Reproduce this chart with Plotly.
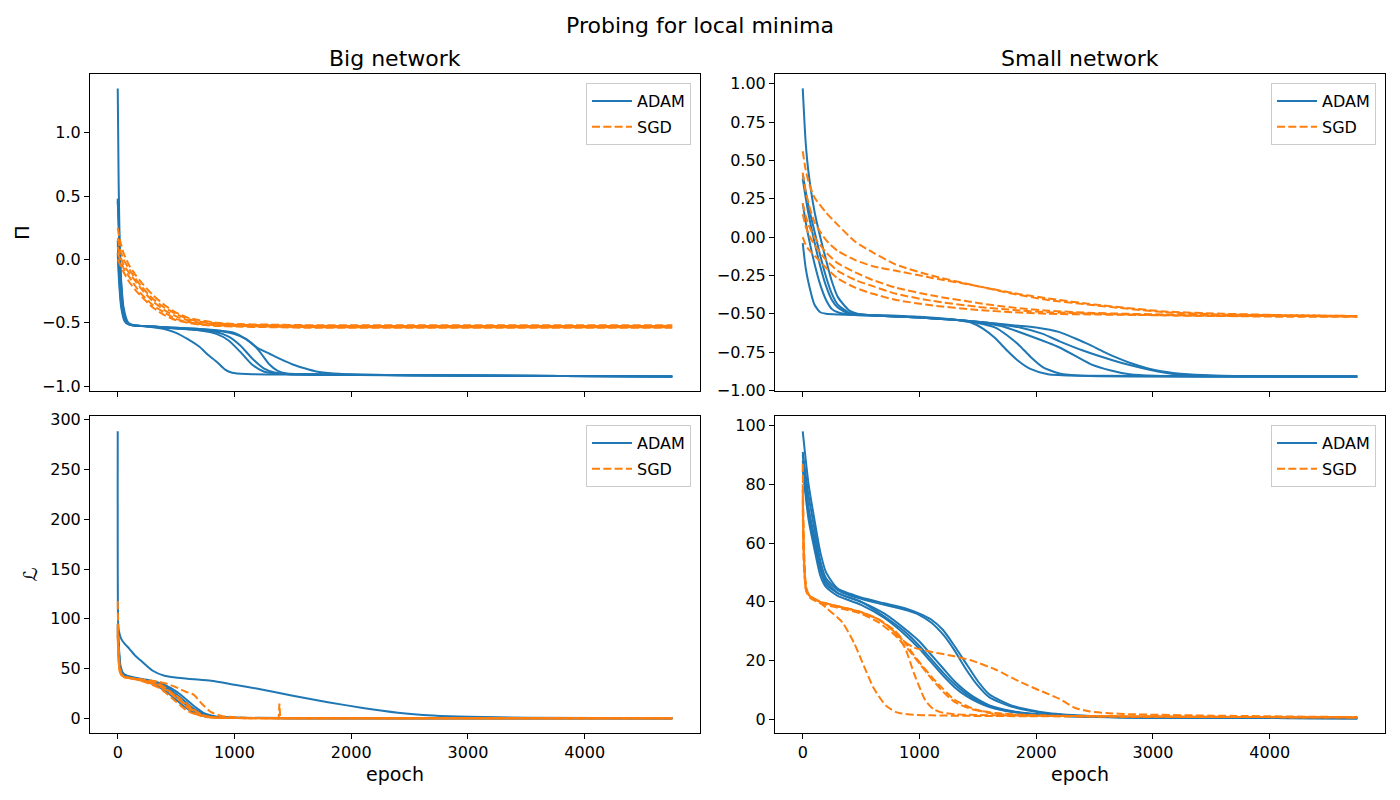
import plotly.graph_objects as go

# ---------------- data ----------------
EPOCH_TICKS = [0, 1000, 2000, 3000, 4000]
SUBPLOT_TITLES = ["Big network", "Small network"]
SERIES_NAMES = ["ADAM", "SGD"]

# Big network, Pi, ADAM runs
big_pi_adam_x = [
    [0, 8, 20, 40, 70, 120, 250, 400, 500, 600, 700, 770, 850, 920, 980, 1100, 1500, 2500, 4750],
    [0, 10, 25, 50, 80, 130, 300, 500, 700, 850, 950, 1050, 1150, 1250, 1350, 1500, 2500, 4750],
    [0, 10, 25, 50, 90, 140, 300, 500, 700, 850, 950, 1050, 1150, 1250, 1350, 1450, 1600, 2500, 4750],
    [0, 10, 30, 60, 100, 300, 500, 700, 900, 1000, 1100, 1200, 1300, 1370, 1450, 1600, 2500, 4750],
    [0, 10, 30, 60, 100, 300, 500, 700, 900, 1000, 1100, 1200, 1300, 1400, 1500, 1600, 1700, 1850, 2100, 2500, 4750],
]
big_pi_adam_y = [
    [1.35, 0.6, 0.0, -0.35, -0.50, -0.52, -0.53, -0.55, -0.58, -0.63, -0.69, -0.75, -0.81, -0.87, -0.895, -0.905, -0.91, -0.915, -0.925],
    [0.48, 0.2, -0.15, -0.40, -0.50, -0.52, -0.53, -0.545, -0.56, -0.59, -0.64, -0.73, -0.83, -0.885, -0.90, -0.905, -0.915, -0.925],
    [0.46, 0.25, -0.1, -0.38, -0.5, -0.52, -0.53, -0.545, -0.56, -0.575, -0.61, -0.68, -0.78, -0.86, -0.895, -0.905, -0.91, -0.915, -0.925],
    [0.15, -0.1, -0.35, -0.48, -0.515, -0.53, -0.54, -0.55, -0.57, -0.59, -0.63, -0.71, -0.83, -0.88, -0.90, -0.905, -0.915, -0.925],
    [0.05, -0.15, -0.38, -0.49, -0.515, -0.53, -0.54, -0.55, -0.565, -0.58, -0.63, -0.70, -0.745, -0.79, -0.83, -0.86, -0.885, -0.90, -0.91, -0.915, -0.925],
]

# Big network, Pi, SGD runs
big_pi_sgd_x = [[0, 20, 50, 100, 150, 200, 300, 400, 500, 600, 700, 850, 1000, 1300, 1700, 2500, 4750]] * 5
big_pi_sgd_y = [
    [0.25, 0.15, 0.05, -0.05, -0.12, -0.18, -0.28, -0.36, -0.42, -0.46, -0.48, -0.50, -0.51, -0.515, -0.52, -0.52, -0.52],
    [0.17, 0.08, 0.0, -0.08, -0.15, -0.21, -0.31, -0.38, -0.43, -0.47, -0.49, -0.505, -0.515, -0.52, -0.525, -0.525, -0.525],
    [0.10, 0.03, -0.04, -0.11, -0.17, -0.23, -0.33, -0.40, -0.45, -0.48, -0.50, -0.515, -0.52, -0.525, -0.53, -0.53, -0.53],
    [0.05, 0.0, -0.07, -0.14, -0.21, -0.27, -0.36, -0.42, -0.47, -0.495, -0.51, -0.52, -0.525, -0.53, -0.535, -0.535, -0.535],
    [0.0, -0.04, -0.1, -0.18, -0.24, -0.29, -0.38, -0.44, -0.48, -0.50, -0.515, -0.525, -0.53, -0.535, -0.54, -0.54, -0.54],
]

# Small network, Pi, ADAM runs
small_pi_adam_x = [
    [0, 25, 50, 100, 150, 200, 250, 300, 400, 500, 700, 1000, 1300, 1450, 1550, 1650, 1750, 1850, 1950, 2100, 2400, 4750],
    [0, 25, 50, 100, 150, 200, 250, 300, 400, 500, 700, 1000, 1300, 1500, 1650, 1750, 1860, 1950, 2060, 2200, 2400, 4750],
    [0, 25, 50, 100, 150, 200, 250, 300, 400, 500, 700, 1000, 1300, 1500, 1700, 1930, 2200, 2470, 2640, 2800, 3000, 4750],
    [0, 25, 50, 100, 150, 200, 250, 300, 400, 700, 1000, 1300, 1600, 1860, 2050, 2200, 2400, 2640, 2800, 2970, 3200, 3500, 4750],
    [0, 25, 50, 100, 150, 200, 300, 700, 1000, 1300, 1600, 1800, 2000, 2200, 2330, 2450, 2570, 2700, 2800, 2950, 3070, 3300, 3600, 4750],
]
small_pi_adam_y = [
    [0.97, 0.62, 0.42, 0.17, 0.0, -0.15, -0.29, -0.39, -0.48, -0.505, -0.51, -0.52, -0.54, -0.56, -0.60, -0.66, -0.74, -0.81, -0.86, -0.895, -0.905, -0.91],
    [0.41, 0.30, 0.20, 0.04, -0.12, -0.26, -0.37, -0.44, -0.495, -0.505, -0.515, -0.525, -0.54, -0.56, -0.59, -0.64, -0.71, -0.78, -0.85, -0.89, -0.905, -0.91],
    [0.38, 0.26, 0.15, -0.03, -0.19, -0.32, -0.41, -0.46, -0.50, -0.505, -0.515, -0.525, -0.54, -0.555, -0.58, -0.64, -0.72, -0.83, -0.87, -0.895, -0.905, -0.91],
    [0.22, 0.10, 0.0, -0.17, -0.31, -0.41, -0.47, -0.49, -0.505, -0.515, -0.525, -0.54, -0.56, -0.59, -0.63, -0.68, -0.74, -0.80, -0.835, -0.865, -0.895, -0.905, -0.91],
    [-0.04, -0.2, -0.3, -0.44, -0.49, -0.50, -0.505, -0.515, -0.525, -0.54, -0.56, -0.575, -0.59, -0.62, -0.66, -0.70, -0.745, -0.79, -0.82, -0.855, -0.875, -0.895, -0.905, -0.91],
]

# Small network, Pi, SGD runs
small_pi_sgd_x = [[0, 25, 50, 100, 200, 300, 450, 600, 800, 1100, 1500, 1800, 2100, 2500, 3100, 3600, 4200, 4750]] * 5
small_pi_sgd_y = [
    [0.56, 0.44, 0.36, 0.26, 0.16, 0.08, -0.03, -0.10, -0.18, -0.25, -0.32, -0.37, -0.41, -0.445, -0.49, -0.505, -0.51, -0.515],
    [0.42, 0.30, 0.22, 0.10, -0.02, -0.09, -0.15, -0.19, -0.22, -0.265, -0.32, -0.365, -0.40, -0.44, -0.485, -0.50, -0.51, -0.515],
    [0.22, 0.14, 0.08, 0.0, -0.10, -0.17, -0.23, -0.28, -0.33, -0.38, -0.43, -0.46, -0.48, -0.495, -0.505, -0.51, -0.515, -0.515],
    [0.15, 0.07, 0.02, -0.05, -0.15, -0.22, -0.28, -0.32, -0.37, -0.415, -0.455, -0.475, -0.49, -0.50, -0.51, -0.515, -0.515, -0.52],
    [0.0, -0.05, -0.08, -0.12, -0.20, -0.27, -0.33, -0.37, -0.41, -0.445, -0.475, -0.49, -0.50, -0.505, -0.51, -0.515, -0.52, -0.52],
]

# Big network, loss, ADAM runs
big_l_adam_x = [
    [0, 4, 10, 30, 60, 100, 150, 200, 300, 400, 600, 800, 1000, 1200, 1500, 1800, 2100, 2400, 2700, 3000, 3500, 4750],
] + [[0, 10, 25, 50, 80, 150, 250, 350, 450, 550, 650, 750, 850, 1000, 1500, 4750]] * 4
big_l_adam_y = [
    [288, 95, 88, 80, 75, 70, 63, 58, 48, 43, 40, 38, 34, 30, 23, 16.5, 10.7, 6, 3.2, 1.8, 1.0, 0.5],
    [95, 72, 52, 45, 43, 41, 39, 36, 31, 23, 13, 5, 2, 1, 0.6, 0.3],
    [92, 68, 50, 44, 42, 40, 38, 34, 27, 17, 8, 3, 1.5, 0.8, 0.5, 0.3],
    [88, 65, 49, 44, 42, 40, 38, 35, 29, 20, 10, 4, 1.7, 0.9, 0.5, 0.3],
    [84, 62, 48, 44, 42, 40, 37, 32, 24, 14, 6, 2, 1, 0.7, 0.5, 0.3],
]

# Big network, loss, SGD runs (the last run has a short spike near epoch 1385)
big_l_sgd_x = [[0, 5, 15, 30, 60, 150, 250, 350, 420, 500, 580, 650, 720, 800, 900, 1100, 2000, 4750]] * 4 + [
    [0, 5, 15, 30, 60, 150, 250, 350, 420, 500, 580, 650, 720, 800, 900, 1100, 1378, 1385, 1392, 2000, 4750],
]
big_l_sgd_y = [
    [118, 80, 55, 45, 42, 40, 38, 35, 30, 22, 13, 6, 2.5, 1.2, 0.8, 0.5, 0.4, 0.3],
    [95, 70, 52, 45, 42, 40, 38.5, 37, 35, 31.5, 27, 24, 15, 6.5, 2.5, 0.8, 0.4, 0.3],
    [90, 66, 50, 44, 41.5, 39.5, 36, 31, 25, 17, 9, 5, 3, 1.5, 0.8, 0.5, 0.4, 0.3],
    [86, 64, 49, 44, 41.5, 40, 37.5, 34, 29, 23, 16, 9, 4, 1.5, 0.8, 0.5, 0.4, 0.3],
    [82, 62, 48, 44, 41.5, 39.5, 37, 33, 28, 21, 14, 8, 3.5, 1.5, 0.8, 0.5, 0.4, 15, 0.4, 0.4, 0.3],
]

# Small network, loss, ADAM runs
small_l_adam_x = [[0, 50, 100, 150, 200, 300, 500, 700, 900, 1000, 1100, 1200, 1300, 1400, 1500, 1600, 1800, 2100, 2500, 3000, 4750]] * 5
small_l_adam_y = [
    [98, 80, 68, 57, 50, 44.5, 41.5, 39.5, 37.5, 36, 34, 30.5, 25, 19, 13, 8.5, 4.6, 2.2, 1.1, 0.7, 0.4],
    [91, 76, 65, 54, 48, 44, 41, 39, 37, 35.5, 33, 29, 23.5, 17, 11.5, 7.5, 4.2, 2.0, 1.0, 0.7, 0.4],
    [88, 71, 60, 51, 46, 43, 40, 36, 30, 26.5, 22, 17.5, 13, 9.5, 6.8, 4.8, 2.8, 1.5, 0.9, 0.6, 0.4],
    [85, 68, 58, 49, 45, 42, 39, 34.5, 28, 24, 19.5, 15, 11, 8, 5.8, 4.2, 2.5, 1.4, 0.8, 0.6, 0.4],
    [90, 72, 62, 52, 47, 43, 40, 35, 29, 25, 20.5, 16, 12, 8.8, 6.3, 4.5, 2.6, 1.4, 0.9, 0.6, 0.4],
]

# Small network, loss, SGD runs
small_l_sgd_x = [
    [0, 10, 30, 60, 120, 200, 340, 440, 510, 610, 710, 800, 850, 950, 1100, 1500, 2500, 4750],
    [0, 10, 30, 60, 150, 300, 500, 650, 780, 880, 950, 1000, 1050, 1120, 1180, 1300, 1500, 2500, 4750],
    [0, 10, 30, 60, 150, 300, 500, 650, 780, 870, 950, 1030, 1115, 1200, 1290, 1450, 1620, 2000, 3000, 4750],
    [0, 10, 30, 60, 150, 300, 500, 650, 780, 870, 950, 1100, 1300, 1450, 1650, 1850, 2050, 2200, 2330, 2450, 2600, 2800, 3500, 4750],
    [0, 10, 30, 60, 150, 300, 500, 650, 780, 900, 1000, 1100, 1200, 1300, 1450, 1650, 2000, 3000, 4750],
]
small_l_sgd_y = [
    [80, 55, 44, 42, 40.5, 38, 33, 26, 19.5, 10.5, 4.8, 2.5, 2, 1.6, 1.4, 1.2, 1.0, 0.7],
    [87, 60, 45, 42, 40, 38.5, 36.5, 34, 30, 24, 16, 11, 6.5, 3.5, 2.5, 1.8, 1.5, 1.1, 0.7],
    [75, 55, 44, 42, 40, 38.5, 36.5, 34, 30.5, 26.5, 22, 18, 14, 10.5, 7, 3.8, 2, 1.3, 1.0, 0.7],
    [78, 56, 44, 42, 40, 38.5, 36.5, 34, 30, 26.5, 24.5, 23, 21.5, 20, 17, 13, 9.5, 7, 4, 2.8, 2.2, 1.8, 1.3, 0.8],
    [72, 52, 43.5, 41.5, 39.5, 38, 36, 33, 29, 24, 19, 14, 9.5, 6, 3.5, 2.2, 1.4, 1.0, 0.7],
]

# ---------------- styling ----------------
BLUE = "#1f77b4"
ORANGE = "#ff7f0e"
FONT = "DejaVu Sans"
W, H = 1400, 800

# axes boxes in pixels (left, right, top, bottom)
BOX = {
    (1, 1): (90, 700, 74, 391),
    (1, 2): (775, 1385, 74, 391),
    (2, 1): (90, 700, 416, 733),
    (2, 2): (775, 1385, 416, 733),
}
AXIS_IDS = {(1, 1): "", (1, 2): "2", (2, 1): "3", (2, 2): "4"}
LEGEND_IDS = {(1, 1): "legend", (1, 2): "legend2", (2, 1): "legend3", (2, 2): "legend4"}

panels = [
    ((1, 1), big_pi_adam_x, big_pi_adam_y, big_pi_sgd_x, big_pi_sgd_y),
    ((1, 2), small_pi_adam_x, small_pi_adam_y, small_pi_sgd_x, small_pi_sgd_y),
    ((2, 1), big_l_adam_x, big_l_adam_y, big_l_sgd_x, big_l_sgd_y),
    ((2, 2), small_l_adam_x, small_l_adam_y, small_l_sgd_x, small_l_sgd_y),
]

fig = go.Figure()

for pos, ax_x, ax_y, sg_x, sg_y in panels:
    sid = AXIS_IDS[pos]
    xa, ya = "x" + sid, "y" + sid
    leg = LEGEND_IDS[pos]
    for name, color, dash, xs_list, ys_list in (
        (SERIES_NAMES[0], BLUE, "solid", ax_x, ax_y),
        (SERIES_NAMES[1], ORANGE, "8px,3.3px", sg_x, sg_y),
    ):
        for i, (xs, ys) in enumerate(zip(xs_list, ys_list)):
            # a run with an abrupt one-point spike is drawn with straight segments
            spiky = any(ys[k] > ys[k - 1] + 5 and ys[k] > ys[k + 1] + 5 for k in range(1, len(ys) - 1))
            line = dict(color=color, width=2, dash=dash)
            if spiky:
                line["shape"] = "linear"
            else:
                line["shape"] = "spline"
                line["smoothing"] = 0.6
            fig.add_trace(go.Scatter(
                x=xs, y=ys, mode="lines", name=name, line=line,
                xaxis=xa, yaxis=ya, legend=leg,
                legendgroup=name + sid, showlegend=(i == 0),
            ))

axis_common = dict(
    showgrid=False, zeroline=False, showline=True, mirror=True, automargin=False,
    linecolor="black", linewidth=1, ticks="outside", ticklen=5, tickwidth=1,
    tickcolor="black", tickfont=dict(family=FONT, size=16, color="black"),
)

y_ranges = {
    (1, 1): dict(range=[-1.039, 1.464], dtick=0.5, tickformat=".1f"),
    (1, 2): dict(range=[-1.004, 1.064], dtick=0.25, tickformat=".2f"),
    (2, 1): dict(range=[-14.4, 303.4], dtick=50, tickformat="d"),
    (2, 2): dict(range=[-4.6, 103.2], dtick=20, tickformat="d"),
}
y_titles = {(1, 1): "Π", (2, 1): "ℒ"}

layout = dict(
    width=W, height=H, margin=dict(l=0, r=0, t=0, b=0, pad=0, autoexpand=False),
    paper_bgcolor="white", plot_bgcolor="white",
    font=dict(family=FONT, color="black"),
    title=dict(text="Probing for local minima", x=0.5, xanchor="center",
               y=1 - 25 / H, yanchor="middle", yref="container", automargin=False,
               font=dict(family=FONT, size=22, color="black")),
)

for pos, (l, r, t, b) in BOX.items():
    sid = AXIS_IDS[pos]
    xkey, ykey = "xaxis" + sid, "yaxis" + sid
    xdict = dict(axis_common, domain=[l / W, r / W], range=[-237.5, 4987.5],
                 tickvals=EPOCH_TICKS, anchor="y" + sid,
                 showticklabels=(pos[0] == 2))
    if pos[0] == 2:
        xdict["title"] = dict(text="epoch", font=dict(family=FONT, size=19, color="black"), standoff=6)
    ydict = dict(axis_common, domain=[1 - b / H, 1 - t / H], anchor="x" + sid, **y_ranges[pos])
    if pos in y_titles:
        ydict["title"] = dict(text=y_titles[pos], font=dict(family=FONT, size=19, color="black"), standoff=7)
    layout[xkey] = xdict
    layout[ykey] = ydict
    layout[LEGEND_IDS[pos]] = dict(
        x=(r - 9) / W, y=1 - (t + 9) / H, xanchor="right", yanchor="top",
        bgcolor="rgba(255,255,255,0.8)", bordercolor="#cccccc", borderwidth=1,
        font=dict(family=FONT, size=16, color="black"), tracegroupgap=2,
        itemwidth=40,
    )

annotations = []
for col, text in enumerate(SUBPLOT_TITLES):
    l, r, t, b = BOX[(1, col + 1)]
    annotations.append(dict(text=text, x=(l + r) / 2 / W, y=1 - 59 / H, xref="paper", yref="paper",
                            xanchor="center", yanchor="middle", showarrow=False,
                            font=dict(family=FONT, size=22, color="black")))
layout["annotations"] = annotations

fig.update_layout(**layout)
fig.write_html(
    "out.html",
    config={"displayModeBar": False},
    post_script="document.body.style.margin='0px';document.body.style.overflow='hidden';",
)
